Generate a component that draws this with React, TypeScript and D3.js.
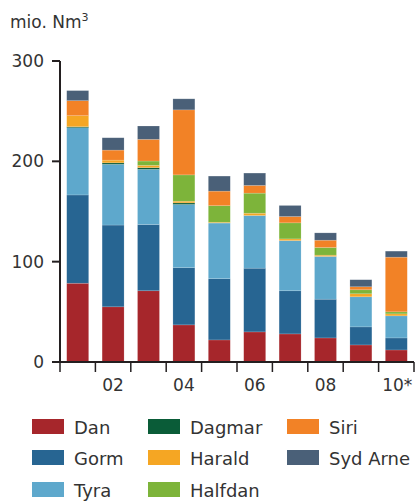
import React from "react";
import * as d3 from "d3";

const years = ["2001", "2002", "2003", "2004", "2005", "2006", "2007", "2008", "2009", "2010"];
const yearLabels = ["", "02", "", "04", "", "06", "", "08", "", "10*"];
const seriesNames = ["Dan", "Gorm", "Tyra", "Dagmar", "Harald", "Halfdan", "Siri", "Syd Arne"];
const seriesColors = ["#a6262b", "#276592", "#5ea8cc", "#0a5c38", "#f5a623", "#7db43a", "#f28226", "#4a6078"];

const dan = [78.5, 55, 71, 37, 22, 30, 28, 24, 17, 12];
const gorm = [88, 81.5, 66, 57, 61, 63.5, 43, 38.6, 18, 12];
const tyra = [67, 60.5, 55, 63, 55.5, 52.5, 50, 42.6, 30, 22];
const dagmar = [1, 1.5, 1.7, 1.6, 0, 0, 0, 0, 0, 0];
const harald = [11, 2.7, 2.3, 1.7, 0.8, 2.3, 1.7, 1.3, 3, 2];
const halfdan = [0, 0, 4.3, 26.2, 16.5, 20, 16, 7.6, 4, 2];
const siri = [15, 10, 21.6, 64.8, 14.5, 7.7, 6.3, 7.3, 3, 54.5];
const sydArne = [10, 12.3, 13.3, 11, 15, 12.3, 11, 7.3, 7, 6];

const yTicks = [0, 100, 200, 300];

const W = 415;
const H = 502;
const left = 60;
const right = 414;
const top = 61;
const bottom = 362;
const axisColor = "#231f20";
const textColor = "#333333";
const font = "'DejaVu Sans', Verdana, sans-serif";

export default function App() {
  const seriesValues = [dan, gorm, tyra, dagmar, harald, halfdan, siri, sydArne];
  const rows = years.map((y, i) => {
    const r: Record<string, any> = { year: y };
    seriesNames.forEach((s, k) => (r[s] = seriesValues[k][i]));
    return r;
  });
  const stacked = d3.stack().keys(seriesNames)(rows as any);

  const x = d3.scaleBand().domain(years).range([left, right]).paddingInner(0.38).paddingOuter(0.19);
  const y = d3.scaleLinear().domain([0, 300]).range([bottom, top]);
  const step = x.step();
  const boundaries = d3.range(years.length + 1).map((i) => left + i * step);

  return (
    <svg width={W} height={H} style={{ position: "absolute", left: 0, top: 0 }} fontFamily={font}>
      <rect width={W} height={H} fill="#ffffff" />
      <text x={10} y={28} fontSize={17} fill={textColor}>
        mio. Nm<tspan fontSize={11} dy={-7}>3</tspan>
      </text>
      {stacked.map((layer, k) => (
        <g key={seriesNames[k]} fill={seriesColors[k]}>
          {layer.map((d, i) => {
            const h = y(d[0]) - y(d[1]);
            if (h <= 0) return null;
            return (
              <rect
                key={i}
                x={x(years[i])}
                y={y(d[1])}
                width={x.bandwidth()}
                height={h}
                stroke="#ffffff"
                strokeOpacity={0.25}
                strokeWidth={0.6}
              />
            );
          })}
        </g>
      ))}
      {/* y axis */}
      <line x1={left} x2={left} y1={y(300)} y2={bottom + 1} stroke={axisColor} strokeWidth={2} />
      {yTicks.map((t) => (
        <g key={t}>
          <line x1={left - 8} x2={left} y1={y(t)} y2={y(t)} stroke={axisColor} strokeWidth={2} />
          <text x={44} y={y(t)} dy="0.36em" textAnchor="end" fontSize={17} fill={textColor}>
            {t}
          </text>
        </g>
      ))}
      {/* x axis */}
      <line x1={left - 8} x2={right} y1={bottom} y2={bottom} stroke={axisColor} strokeWidth={2} />
      {boundaries.map((b, i) => (
        <line key={i} x1={b} x2={b} y1={bottom} y2={bottom + 10} stroke={axisColor} strokeWidth={1.5} />
      ))}
      {years.map((yr, i) => (
        <text
          key={yr}
          x={(x(yr) as number) + x.bandwidth() / 2 + (yearLabels[i] === "10*" ? 1 : 0)}
          y={391}
          textAnchor="middle"
          fontSize={17}
          fill={textColor}
        >
          {yearLabels[i]}
        </text>
      ))}
      {/* legend */}
      {seriesNames.map((s, k) => {
        const col = Math.floor(k / 3);
        const row = k % 3;
        const sx = [32, 148, 287][col];
        const sy = [419, 450, 482][row];
        return (
          <g key={s}>
            <rect x={sx} y={sy} width={32} height={15} fill={seriesColors[k]} />
            <text x={sx + 42} y={sy + 15} fontSize={18} fill={textColor}>
              {s}
            </text>
          </g>
        );
      })}
    </svg>
  );
}
